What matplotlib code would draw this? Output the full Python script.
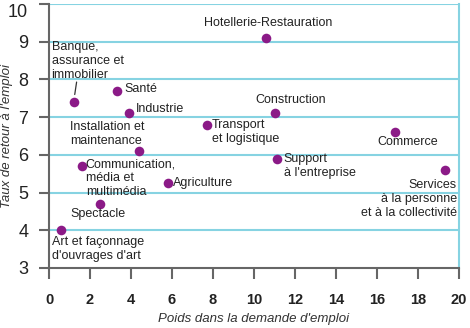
import matplotlib
matplotlib.use("Agg")
import matplotlib.pyplot as plt

plt.rcParams['font.family'] = ['Liberation Sans', 'DejaVu Sans']

sectors = ["Hotellerie-Restauration", "Construction", "Commerce",
           "Support\nà l'entreprise", "Services\nà la personne\net à la collectivité",
           "Banque,\nassurance et\nimmobilier", "Santé", "Industrie",
           "Installation et\nmaintenance", "Transport\net logistique",
           "Communication,\nmédia et\nmultimédia", "Agriculture", "Spectacle",
           "Art et façonnage\nd'ouvrages d'art"]
poids = [10.6, 11.0, 16.9, 11.1, 19.3, 1.2, 3.3, 3.9, 4.4, 7.7, 1.6, 5.8, 2.5, 0.6]
taux = [9.1, 7.1, 6.6, 5.9, 5.6, 7.4, 7.7, 7.1, 6.1, 6.8, 5.7, 5.25, 4.7, 4.0]

x_ticks = list(range(0, 21, 2))
y_ticks = list(range(3, 11))

# label layout: (dx px, dy px, ha)
layout = [(2, 15, 'center'), (16, 13, 'center'), (12, -10, 'center'),
          (7, -7, 'left'), (12, -29, 'right'),
          (-22, 41, 'left'), (8, 2, 'left'), (7, 4, 'left'),
          (-69, 17, 'left'), (5, -7, 'left'),
          (4, -12, 'left'), (5, 0, 'left'), (-2, -10, 'center'),
          (-9, -19, 'left')]

grid_c = '#86d3e2'
spine_c = '#666666'
pt_c = '#8b1a87'

fig = plt.figure(figsize=(4.7, 3.28), dpi=100)
ax = fig.add_axes([49/470, 1-268/328, 410/470, 264/328])
ax.set_xlim(0, 20)
ax.set_ylim(3, 10)

for yv in y_ticks[1:]:
    ax.axhline(yv, color=grid_c, lw=1.5, zorder=1)

ax.scatter(poids, taux, s=48, color=pt_c, zorder=3, linewidths=0)

for i, (name, x, y) in enumerate(zip(sectors, poids, taux)):
    dx, dy, ha = layout[i]
    ax.annotate(name, xy=(x, y), xytext=(dx, dy), textcoords='offset pixels',
                ha=ha, va='center', multialignment=ha, fontsize=9,
                color='#222222', linespacing=1.2, zorder=4)
    if name.startswith("Banque"):
        ax.annotate('', xy=(x, y), xytext=(3, 20), textcoords='offset pixels',
                    arrowprops=dict(arrowstyle='-', color='#333333', lw=0.9,
                                    shrinkA=0, shrinkB=5.5))

ax.spines['top'].set_visible(False)
ax.spines['right'].set_color(grid_c)
ax.spines['right'].set_linewidth(1.5)
ax.spines['left'].set_color(spine_c)
ax.spines['left'].set_linewidth(1.5)
ax.spines['bottom'].set_color(spine_c)
ax.spines['bottom'].set_linewidth(1.5)

ax.set_xticks(x_ticks)
ax.set_yticks(y_ticks)
ax.tick_params(axis='x', direction='out', length=8, width=1.5, color=spine_c, pad=10)
ax.tick_params(axis='y', direction='out', length=7, width=1.5, color=spine_c, pad=8)
for lab in ax.get_xticklabels():
    lab.set_fontfamily(['Liberation Sans Narrow', 'Liberation Sans'])
    lab.set_fontweight('bold')
    lab.set_fontsize(10.5)
    lab.set_color('#222222')
ylabs = ax.get_yticklabels()
for lab in ylabs:
    lab.set_fontsize(13)
    lab.set_color('#222222')
ylabs[-1].set_verticalalignment('top')

ax.set_xlabel("Poids dans la demande d'emploi", fontsize=9.5, style='italic',
              color='#333333', labelpad=4)
ax.set_ylabel("Taux de retour à l'emploi", fontsize=9.5, style='italic',
              color='#333333')
ax.yaxis.set_label_coords(-0.088, 0.5)

fig.savefig('out.png', dpi=100)
